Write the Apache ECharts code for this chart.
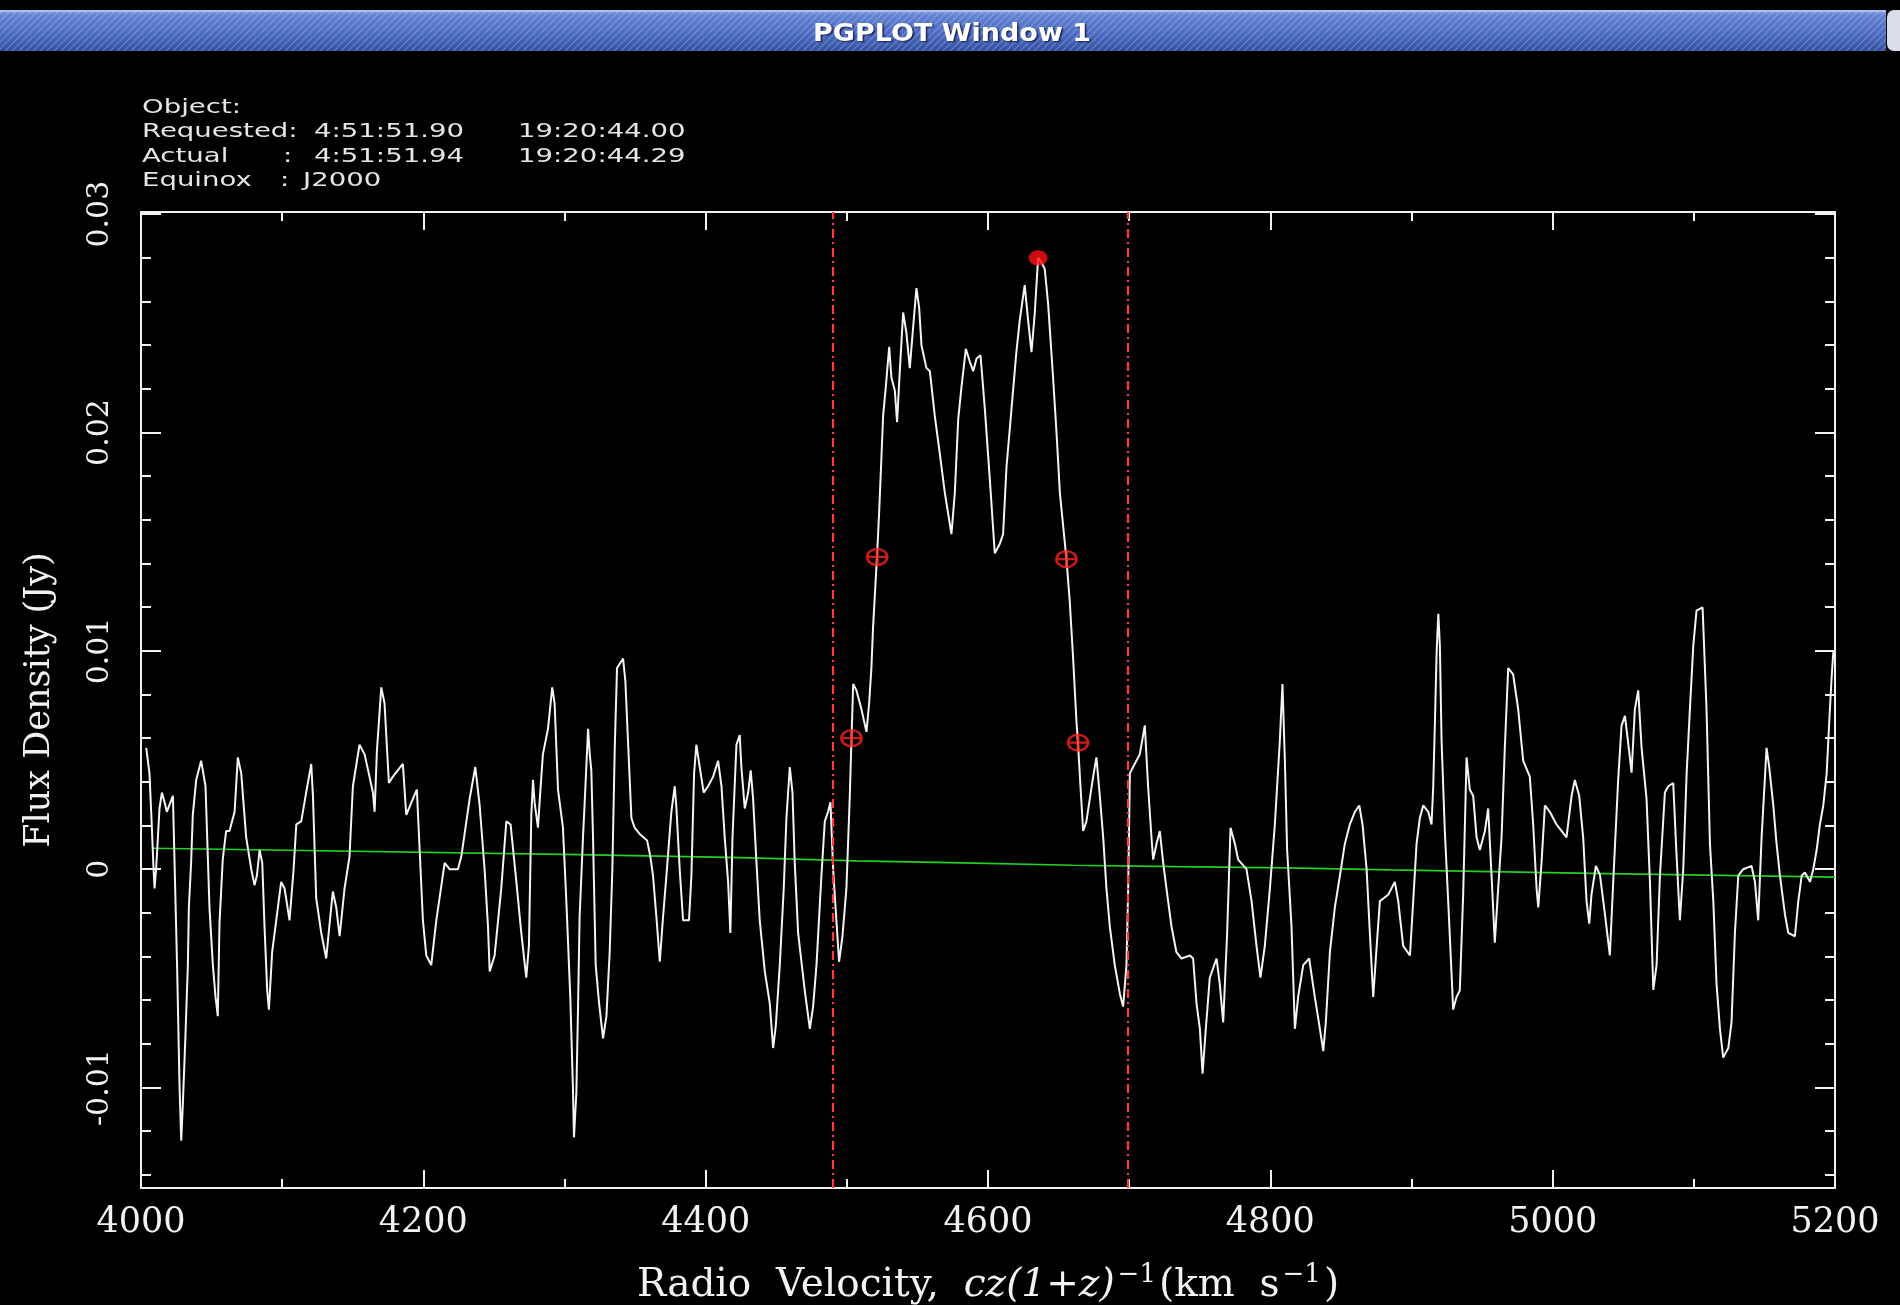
<!DOCTYPE html>
<html>
<head>
<meta charset="utf-8">
<title>PGPLOT Window 1</title>
<script src="https://cdn.jsdelivr.net/npm/echarts@6/dist/echarts.min.js"></script>
<style>
  html, body { margin: 0; padding: 0; background: #000; }
  #chart { width: 1900px; height: 1305px; }
</style>
</head>
<body>
<div id="chart"></div>
<script>
// HI spectrum: radio velocity (km/s) and flux density (Jy)
const vel = [
  4003.7, 4006.0, 4007.4, 4008.9, 4009.6, 4010.7, 4013.1, 4014.8, 4016.7, 4018.3,
  4022.6, 4025.6, 4027.3, 4028.5, 4029.6, 4031.5, 4033.2, 4033.9, 4035.5, 4036.7,
  4039.1, 4042.6, 4045.7, 4048.5, 4050.9, 4052.8, 4054.4, 4055.6, 4057.9, 4060.3,
  4062.7, 4066.3, 4068.6, 4071.0, 4074.5, 4078.1, 4080.4, 4082.1, 4084.0, 4085.9,
  4087.5, 4089.4, 4090.6, 4092.9, 4095.8, 4099.3, 4101.7, 4105.2, 4108.1, 4110.0,
  4113.5, 4117.0, 4120.6, 4121.8, 4124.1, 4127.7, 4131.2, 4133.6, 4135.9, 4138.3,
  4140.7, 4144.2, 4147.7, 4150.1, 4154.8, 4158.4, 4164.3, 4165.5, 4167.1, 4170.2,
  4172.5, 4175.6, 4178.4, 4185.5, 4187.9, 4192.6, 4195.4, 4197.3, 4199.7, 4202.1,
  4205.6, 4209.2, 4215.1, 4218.6, 4224.5, 4226.9, 4232.8, 4236.8, 4239.9, 4243.4,
  4245.8, 4247.0, 4250.5, 4255.2, 4258.8, 4261.8, 4265.9, 4269.4, 4272.9, 4274.8,
  4276.5, 4277.7, 4278.8, 4281.2, 4282.8, 4284.7, 4288.3, 4291.3, 4293.0, 4295.4,
  4298.9, 4301.3, 4304.1, 4306.0, 4306.7, 4308.4, 4309.6, 4310.7,
  4313.1, 4314.3, 4316.7, 4317.9, 4319.0, 4320.2, 4322.1, 4324.5, 4327.3, 4329.7,
  4332.0, 4333.9, 4335.6, 4337.2, 4341.5, 4343.1, 4345.0, 4347.4, 4349.7, 4353.3,
  4358.5, 4360.8, 4362.7, 4365.1, 4367.5, 4369.8, 4372.2, 4375.7, 4378.1, 4379.3,
  4381.6, 4384.0, 4388.2, 4389.9, 4391.8, 4393.4, 4395.8, 4398.6, 4401.7, 4405.3,
  4408.8, 4411.2, 4413.5, 4415.9, 4417.5, 4419.0, 4421.8, 4424.1, 4425.3, 4427.7,
  4430.1, 4431.9, 4433.6, 4436.0, 4438.3, 4441.9, 4445.4, 4447.8, 4449.7, 4452.5,
  4455.3, 4457.2, 4459.6, 4461.5, 4463.1, 4465.5, 4470.2, 4473.8, 4476.1, 4478.5,
  4482.0, 4484.4, 4486.7, 4488.4, 4490.3, 4492.6, 4494.5, 4496.9, 4499.7, 4502.1,
  4503.3, 4504.5, 4506.8, 4510.4, 4513.9, 4515.8, 4517.4, 4518.6, 4521.5, 4522.9,
  4524.5, 4525.7, 4527.6, 4530.0, 4531.6, 4534.0, 4535.6, 4537.5, 4539.9, 4542.2,
  4544.6, 4547.0, 4549.3, 4551.2, 4552.9, 4556.4, 4558.8, 4562.3, 4565.9, 4569.4,
  4574.1, 4576.5, 4578.9, 4581.2, 4584.3, 4587.1, 4589.5, 4591.9, 4594.7, 4597.8,
  4601.3, 4604.8, 4608.4,
  4610.7, 4613.1, 4616.6, 4620.1, 4622.5, 4626.0, 4628.4, 4630.8, 4633.1, 4635.5,
  4637.9, 4640.2, 4642.6, 4646.1, 4648.5, 4650.9, 4655.6, 4657.9, 4660.3, 4662.7,
  4663.8, 4665.5, 4667.4, 4669.7, 4674.5, 4676.8, 4679.2, 4681.6, 4683.9, 4686.3,
  4689.8, 4693.4, 4695.7, 4698.1, 4699.3, 4700.5, 4702.8, 4707.5, 4711.1, 4713.4,
  4715.8, 4717.0, 4719.4, 4721.7, 4724.1, 4726.4, 4730.0, 4733.5, 4737.1, 4743.0,
  4745.3, 4747.7, 4750.1, 4752.0, 4754.3, 4757.1, 4761.9, 4764.2, 4766.6, 4769.4,
  4771.8, 4774.9, 4777.2, 4783.1, 4786.7, 4790.2, 4793.0, 4796.1, 4799.7, 4803.2,
  4806.7, 4808.6, 4810.3, 4811.9, 4815.0, 4817.4, 4819.7, 4823.3, 4827.5, 4831.5,
  4835.1, 4837.5, 4839.3, 4842.2, 4845.7, 4849.3, 4852.8, 4856.3, 4859.9, 4863.0,
  4865.3, 4868.2, 4870.5, 4872.9, 4875.2, 4877.6, 4883.5, 4888.2, 4890.6, 4894.1,
  4898.9, 4901.2, 4903.6, 4905.9, 4908.3, 4911.9, 4914.2, 4915.4, 4916.6, 4917.8,
  4919.0,
  4920.1, 4921.3, 4923.6, 4926.0, 4928.3, 4929.5, 4931.9, 4934.2, 4936.6, 4939.0,
  4941.3, 4943.7, 4946.1, 4948.4, 4952.0, 4954.3, 4956.7, 4959.0, 4961.4, 4963.8,
  4966.1, 4968.5, 4972.0, 4975.6, 4979.1, 4983.8, 4986.2, 4988.6, 4989.8, 4992.1,
  4994.5, 4998.0, 5002.7, 5009.8, 5013.4, 5015.7, 5018.8, 5021.6, 5024.0, 5025.9,
  5027.5, 5030.6, 5033.5, 5037.0, 5040.5, 5042.9, 5046.4, 5048.8, 5051.2, 5054.7,
  5055.9, 5058.2, 5060.6, 5063.0, 5066.5, 5068.9, 5071.3, 5073.6, 5076.0, 5079.5,
  5081.9, 5085.4, 5087.8, 5090.1, 5092.5, 5094.9, 5097.2, 5099.6, 5101.9, 5106.2,
  5109.0, 5111.4, 5113.8, 5116.1, 5118.5, 5120.8, 5124.4, 5126.7, 5129.1, 5131.5,
  5135.0, 5140.9, 5143.3, 5145.6, 5148.0, 5150.4, 5151.5, 5153.4, 5156.3, 5158.6,
  5161.0, 5164.5, 5166.9, 5171.6, 5174.0, 5176.4, 5178.7, 5182.3, 5184.6, 5187.0,
  5189.3, 5191.7, 5194.1, 5195.9, 5197.6, 5198.8
];
const flux = [
  0.00556, 0.00439, 0.00234, 0.0, -0.00088, 0.0, 0.00278, 0.00351, 0.00307, 0.00263,
  0.00336, -0.00453, -0.00994, -0.01243, -0.01082, -0.0076, -0.00439, -0.00175, 0.00029, 0.00249,
  0.00409, 0.00497, 0.0038, -0.00175, -0.00439, -0.00585, -0.00673, -0.00249, 0.00044, 0.00175,
  0.00175, 0.00263, 0.00512, 0.00439, 0.00146, 0.0, -0.00073, -0.00029, 0.00088, 0.00029,
  -0.00263, -0.00556, -0.00643, -0.0038, -0.00234, -0.00058, -0.00088, -0.00234, 0.0, 0.00205,
  0.00219, 0.00351, 0.00482, 0.00336, -0.00132, -0.00292, -0.00409, -0.00249, -0.00102, -0.00175,
  -0.00307, -0.00088, 0.00058, 0.0038, 0.0057, 0.00526, 0.00351, 0.00263, 0.00541, 0.00833,
  0.0076, 0.00395, 0.00424, 0.00482, 0.00249, 0.00322, 0.00365, 0.00102, -0.00234, -0.00395,
  -0.00439, -0.00234, 0.00029, 0.0, 0.0, 0.00058, 0.00322, 0.00468, 0.00292, 0.0,
  -0.00263, -0.00468, -0.00395, -0.00088, 0.00219, 0.00205, -0.00058, -0.00292, -0.00497, -0.00351,
  0.00249, 0.00409, 0.00307, 0.0019, 0.00351, 0.00526, 0.00643, 0.00833, 0.0076, 0.00365,
  0.0019, -0.00146, -0.00585, -0.01009, -0.01228, -0.01023, -0.00629, -0.00219,
  0.00146, 0.00307, 0.00643, 0.00526, 0.00453, 0.00146, -0.00439, -0.00614, -0.00775, -0.00673,
  -0.0038, 0.0, 0.00556, 0.00921, 0.00965, 0.00863, 0.00585, 0.00234, 0.0019, 0.00161,
  0.00132, 0.00058, -0.00029, -0.00219, -0.00424, -0.00219, -0.00029, 0.00263, 0.0038, 0.00278,
  0.0, -0.00234, -0.00234, -0.00029, 0.00439, 0.0057, 0.00468, 0.00351, 0.0038, 0.00424,
  0.00497, 0.0038, 0.00146, -0.00058, -0.00292, 0.00146, 0.0057, 0.00614, 0.00468, 0.00278,
  0.00351, 0.00453, 0.00322, 0.00029, -0.00234, -0.00468, -0.00614, -0.00819, -0.00716, -0.00439,
  -0.00088, 0.00234, 0.00468, 0.00351, 0.00029, -0.00292, -0.00556, -0.00731, -0.00629, -0.00439,
  -0.00029, 0.00219, 0.00263, 0.00307, 0.0, -0.00234, -0.00424, -0.00307, -0.00088, 0.00336,
  0.00599, 0.00848, 0.00819, 0.00731, 0.00629, 0.0076, 0.00921, 0.01111, 0.01447, 0.01637,
  0.01886, 0.02076, 0.02208, 0.02392, 0.02251, 0.02193, 0.02047, 0.02281, 0.0255, 0.02456,
  0.02295, 0.02485, 0.02661, 0.02573, 0.02398, 0.02295, 0.02281, 0.02076, 0.01901, 0.01725,
  0.01535, 0.01725, 0.02061, 0.02208, 0.02383, 0.02325, 0.02281, 0.02339, 0.02354, 0.02105,
  0.01784, 0.01447, 0.01491,
  0.01535, 0.01842, 0.02105, 0.02368, 0.02515, 0.02675, 0.02515, 0.02368, 0.02544, 0.02800,
  0.02778, 0.02749, 0.02588, 0.02251, 0.02003, 0.01725, 0.01418, 0.01228, 0.00965, 0.00673,
  0.0057, 0.0038, 0.00175, 0.00219, 0.00424, 0.00512, 0.00336, 0.00146, -0.00088, -0.00263,
  -0.00439, -0.0057, -0.00629, -0.00439, -0.00088, 0.00439, 0.00468, 0.00526, 0.00658, 0.0038,
  0.00146, 0.00044, 0.00117, 0.00175, 0.00029, -0.00088, -0.00263, -0.0038, -0.00409, -0.00395,
  -0.00409, -0.00614, -0.00731, -0.00936, -0.00731, -0.00497, -0.00409, -0.00526, -0.00702, -0.00292,
  0.0019, 0.00117, 0.00044, 0.0, -0.00146, -0.00351, -0.00497, -0.00351, -0.00088, 0.00205,
  0.00585, 0.00848, 0.00497, 0.00088, -0.00263, -0.00731, -0.00585, -0.00439, -0.00409, -0.00585,
  -0.00731, -0.00833, -0.00702, -0.0038, -0.00175, -0.00029, 0.00117, 0.00205, 0.00263, 0.00292,
  0.00205, 0.0, -0.00292, -0.00585, -0.00365, -0.00146, -0.00117, -0.00058, -0.00146, -0.00351,
  -0.00395, -0.00146, 0.00117, 0.00234, 0.00292, 0.00263, 0.00205, 0.0038, 0.00673, 0.00994,
  0.0117,
  0.01023, 0.00588, 0.00175, -0.00146, -0.00468, -0.00643, -0.00585, -0.00556, -0.00117, 0.00512,
  0.00365, 0.00336, 0.00146, 0.00088, 0.00175, 0.00278, -0.00029, -0.00336, -0.00088, 0.00146,
  0.00556, 0.00921, 0.00892, 0.00731, 0.00497, 0.00424, 0.00205, -0.00088, -0.00175, 0.00029,
  0.00292, 0.00263, 0.00205, 0.00146, 0.00336, 0.00409, 0.00336, 0.00146, -0.00146, -0.00249,
  -0.00117, 0.00015, -0.00026, -0.00205, -0.00395, -0.00058, 0.00409, 0.00658, 0.00702, 0.00512,
  0.00442, 0.00731, 0.00819, 0.00556, 0.00322, -0.00058, -0.00553, -0.00439, -0.00029, 0.00351,
  0.0038, 0.00395, 0.00058, -0.00234, 0.0, 0.00439, 0.00731, 0.01023, 0.01184, 0.01199,
  0.00731, 0.00117, -0.00146, -0.00526, -0.00731, -0.00863, -0.00819, -0.00702, -0.00292, -0.00029,
  0.0, 0.00015, -0.00058, -0.00234, 0.00146, 0.00424, 0.00556, 0.00468, 0.00292, 0.00117,
  -0.00029, -0.00205, -0.00292, -0.00307, -0.00146, -0.00029, -0.00015, -0.00058, 0.0, 0.00088,
  0.00205, 0.00292, 0.00439, 0.00673, 0.00877, 0.00994
];

// Fitted baseline (green)
const baseVel = [4008, 4310, 4425, 4507, 4582, 4660, 4733, 4811, 4885, 5038, 5190, 5200];
const baseFlux = [0.00096, 0.00067, 0.00053, 0.00038, 0.00029, 0.00018, 0.00012, 0.00006, -0.00003, -0.0002, -0.00035, -0.00036];

// Line window edges (km/s)
const windowVel = [4490, 4699];

// Width points at 50% and 20% of peak, and the peak itself
const widthVel = [4503.3, 4521.5, 4655.6, 4663.8];
const widthFlux = [0.0060, 0.0143, 0.0142, 0.0058];
const peakVel = [4635.5];
const peakFlux = [0.0280];

// Axis ticks
const xMin = 4000, xMax = 5200, xStep = 200;
const yMin = -0.0146, yMax = 0.0301;
const yMajor = [-0.01, 0, 0.01, 0.02, 0.03];
const yMinor = [-0.014, -0.012, -0.008, -0.006, -0.004, -0.002, 0.002, 0.004, 0.006, 0.008,
                0.012, 0.014, 0.016, 0.018, 0.022, 0.024, 0.026, 0.028];

// Header lines
const headerRows = [
  ['Object:'],
  ['Requested:', '', '4:51:51.90', '19:20:44.00'],
  ['Actual', ':', '4:51:51.94', '19:20:44.29'],
  ['Equinox', ':', 'J2000', '']
];

const chart = echarts.init(document.getElementById('chart'));

// diagonal stripe tile for the window title bar
function stripeTile() {
  const c = document.createElement('canvas');
  c.width = 7; c.height = 7;
  const g = c.getContext('2d');
  g.strokeStyle = 'rgba(190,210,255,0.35)';
  g.lineWidth = 1.2;
  g.beginPath();
  g.moveTo(-1, 8); g.lineTo(8, -1);
  g.moveTo(-4, 4); g.lineTo(4, -4);
  g.moveTo(3, 11); g.lineTo(11, 3);
  g.stroke();
  return c;
}

const white = '#f2f2f2';
const serif = 'DejaVu Serif';

// header text pieces
const colX = [142, 283, 314, 518];
const rowY = [108, 132, 157, 181];
const headerGraphics = [];
headerRows.forEach((row, r) => {
  row.forEach((txt, c) => {
    if (!txt) return;
    let x = colX[c];
    if (r === 3 && c === 1) x = 280;
    if (r === 3 && c === 2) x = 303;
    headerGraphics.push({
      type: 'text', x: x, y: rowY[r], scaleX: 1.45, silent: true,
      style: { text: txt, fill: '#e6e6e6', font: '19px "DejaVu Sans"', textVerticalAlign: 'middle' }
    });
  });
});

const axisLineStyle = { color: white, width: 2 };

function xAxisDef(pos, withLabels) {
  return {
    type: 'value', position: pos, min: xMin, max: xMax, interval: xStep,
    axisLine: { show: true, onZero: false, lineStyle: axisLineStyle },
    axisTick: { show: true, inside: true, length: 18, lineStyle: axisLineStyle },
    minorTick: { show: true, splitNumber: 2, length: 9, lineStyle: axisLineStyle },
    splitLine: { show: false }, minorSplitLine: { show: false },
    axisLabel: withLabels ? {
      show: true, color: white, fontFamily: serif, fontSize: 35, margin: 17,
      showMinLabel: true, showMaxLabel: true,
      formatter: v => String(v)
    } : { show: false },
    name: withLabels ? '{n|Radio  Velocity,  }{i|cz(1+z)}{s|\u22121}{n|(km  s}{s|\u22121}{n|)}' : '',
    nameLocation: 'middle', nameGap: 74,
    nameTextStyle: {
      color: white, fontFamily: serif, fontSize: 39,
      rich: {
        n: { color: white, fontFamily: serif, fontSize: 39 },
        i: { color: white, fontFamily: serif, fontSize: 39, fontStyle: 'italic' },
        s: { color: white, fontFamily: serif, fontSize: 26, verticalAlign: 'top', padding: [0, 3, 22, 3] }
      }
    }
  };
}

function yAxisDef(pos, major, withLabels) {
  return {
    type: 'value', position: pos, min: yMin, max: yMax,
    axisLine: { show: major, onZero: false, lineStyle: axisLineStyle },
    axisTick: { show: true, inside: true, length: major ? 20 : 10, lineStyle: axisLineStyle,
                customValues: major ? yMajor : yMinor },
    splitLine: { show: false },
    axisLabel: withLabels ? {
      show: true, customValues: yMajor, rotate: 90, color: white,
      fontFamily: serif, fontSize: 30, margin: 26
    } : { show: false },
    name: withLabels ? 'Flux Density (Jy)' : '',
    nameLocation: 'middle', nameRotate: 90, nameGap: 84,
    nameTextStyle: { color: white, fontFamily: serif, fontSize: 35 }
  };
}

const ringSymbol = 'path://M0,10A10,10,0,1,1,20,10A10,10,0,1,1,0,10ZM0,10L20,10M10,0L10,20';

chart.setOption({
  backgroundColor: '#000',
  animation: false,
  grid: { left: 141, right: 65, top: 212, bottom: 117, containLabel: false, outerBoundsMode: 'none' },
  xAxis: [xAxisDef('bottom', true), xAxisDef('top', false)],
  yAxis: [
    yAxisDef('left', true, true),
    yAxisDef('left', false, false),
    yAxisDef('right', true, false),
    yAxisDef('right', false, false)
  ],
  series: [
    {
      name: 'Baseline', type: 'line', xAxisIndex: 0, yAxisIndex: 0,
      data: baseVel.map((v, i) => [v, baseFlux[i]]),
      showSymbol: false, symbol: 'none', z: 2,
      lineStyle: { color: '#22d022', width: 1.6 }
    },
    {
      name: 'Spectrum', type: 'line', xAxisIndex: 0, yAxisIndex: 0,
      data: vel.map((v, i) => [v, flux[i]]),
      showSymbol: false, symbol: 'none', z: 3,
      lineStyle: { color: '#f4f4f4', width: 2 },
      markLine: {
        silent: true, symbol: 'none', label: { show: false },
        lineStyle: { color: '#ff3a3a', width: 2.2, type: [9, 4, 2, 4] },
        data: windowVel.map(v => ({ xAxis: v }))
      }
    },
    {
      name: 'Width points', type: 'scatter', xAxisIndex: 0, yAxisIndex: 0,
      data: widthVel.map((v, i) => [v, widthFlux[i]]),
      symbol: ringSymbol, symbolSize: [20, 16], z: 5,
      itemStyle: { color: 'rgba(0,0,0,0)', borderColor: '#ff2020', borderWidth: 2.5 }
    },
    {
      name: 'Peak', type: 'scatter', xAxisIndex: 0, yAxisIndex: 0,
      data: peakVel.map((v, i) => [v, peakFlux[i]]),
      symbol: 'circle', symbolSize: [19, 15], z: 6,
      itemStyle: { color: '#ff1010' }
    }
  ],
  graphic: [
    {
      type: 'rect', silent: true, z: 10,
      shape: { x: 0, y: 10, width: 1886, height: 41 },
      style: {
        fill: {
          type: 'linear', x: 0, y: 0, x2: 0, y2: 1,
          colorStops: [
            { offset: 0, color: '#8ea6e6' },
            { offset: 0.12, color: '#6482d2' },
            { offset: 0.6, color: '#4b69bf' },
            { offset: 1, color: '#34519f' }
          ]
        }
      }
    },
    {
      type: 'rect', silent: true, z: 11,
      shape: { x: 0, y: 10, width: 1886, height: 41 },
      style: { fill: { image: stripeTile(), repeat: 'repeat' } }
    },
    {
      type: 'rect', silent: true, z: 11,
      shape: { x: 0, y: 10, width: 1886, height: 2 },
      style: { fill: '#aebfee' }
    },
    {
      type: 'rect', silent: true, z: 11,
      shape: { x: 1887, y: 10, width: 20, height: 41, r: [7, 0, 0, 7] },
      style: { fill: '#d9dde8' }
    },
    {
      type: 'text', x: 952, y: 34, scaleX: 1.08, silent: true, z: 12,
      style: {
        text: 'PGPLOT Window 1', fill: '#ffffff',
        font: 'bold 25px "DejaVu Sans"',
        textAlign: 'center', textVerticalAlign: 'middle',
        textShadowColor: 'rgba(10,20,60,0.9)', textShadowBlur: 2,
        textShadowOffsetX: 1.5, textShadowOffsetY: 1.5
      }
    }
  ].concat(headerGraphics)
});
</script>
</body>
</html>
